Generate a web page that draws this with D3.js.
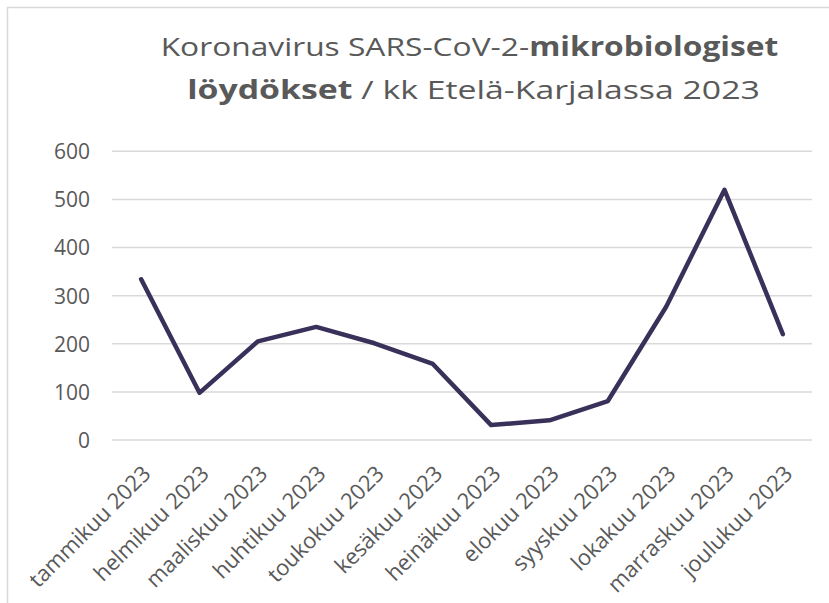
<!DOCTYPE html>
<html><head><meta charset="utf-8">
<script src="https://cdn.jsdelivr.net/npm/d3@7"></script>
<style>body{margin:0;background:#fff}svg{display:block}text{font-family:"Open Sans",sans-serif}</style>
</head><body>
<svg id="c" width="829" height="603"></svg>
<script>
const months = ["tammikuu 2023","helmikuu 2023","maaliskuu 2023","huhtikuu 2023","toukokuu 2023","kesäkuu 2023","heinäkuu 2023","elokuu 2023","syyskuu 2023","lokakuu 2023","marraskuu 2023","joulukuu 2023"];
const findings = [334, 98, 205, 235, 201, 158, 31, 41, 81, 277, 520, 220];
const yTicks = [0, 100, 200, 300, 400, 500, 600];

const svg = d3.select("#c");
const W = 829, H = 603;
const m = {left:112, right:17, top:151.3, bottom:163};

svg.append("rect").attr("x",7.5).attr("y",7.5).attr("width",W+20).attr("height",H+20)
  .attr("fill","none").attr("stroke","#d9d9d9").attr("stroke-width",1.5);

const x = d3.scaleBand().domain(months).range([m.left, W - m.right]);
const y = d3.scaleLinear().domain([0, 600]).range([440, m.top]);

// grid
svg.append("g").selectAll("line").data(yTicks).join("line")
  .attr("x1", m.left).attr("x2", W - m.right)
  .attr("y1", d => y(d)).attr("y2", d => y(d))
  .attr("stroke","#d9d9d9").attr("stroke-width",1.5);

// y axis labels
const yAxis = d3.axisLeft(y).tickValues(yTicks).tickSize(0).tickPadding(0);
const gy = svg.append("g").attr("transform","translate(90,0)").call(yAxis);
gy.select(".domain").remove();
gy.selectAll("text").attr("font-size",21).attr("fill","#595959")
  .style("font-family","'Open Sans',sans-serif").attr("dy","0.35em");

// x axis labels
const xAxis = d3.axisBottom(x).tickSize(0).tickPadding(0);
const gx = svg.append("g").call(xAxis);
gx.select(".domain").remove();
gx.selectAll(".tick").attr("transform", d => `translate(${x(d)+x.bandwidth()/2},0)`);
gx.selectAll("text")
  .attr("font-size",22).attr("fill","#595959").style("font-family","'Open Sans',sans-serif")
  .attr("text-anchor","end").attr("x",0).attr("y",0).attr("dy",0)
  .attr("transform","translate(11,475) rotate(-45)");

// line
const line = d3.line().x((d,i) => x(months[i]) + x.bandwidth()/2).y(d => y(d));
svg.append("path").datum(findings).attr("d", line)
  .attr("fill","none").attr("stroke","#393159").attr("stroke-width",4.5)
  .attr("stroke-linejoin","round").attr("stroke-linecap","round");

// title
function fitText(t, cx, width){
  const w = t.node().getComputedTextLength();
  const s = width / w;
  t.attr("transform", `translate(${cx},0) scale(${s},1)`);
}
const t1 = svg.append("text").attr("y",56).attr("font-size",26).attr("fill","#595959").attr("text-anchor","middle");
t1.append("tspan").text("Koronavirus SARS-CoV-2-");
t1.append("tspan").attr("font-weight","bold").text("mikrobiologiset");
fitText(t1, 469.5, 618);
const t2 = svg.append("text").attr("y",99.5).attr("font-size",26).attr("fill","#595959").attr("text-anchor","middle");
t2.append("tspan").attr("font-weight","bold").text("löydökset");
t2.append("tspan").text(" / kk Etelä-Karjalassa 2023");
fitText(t2, 473.5, 573);
</script>
</body></html>
